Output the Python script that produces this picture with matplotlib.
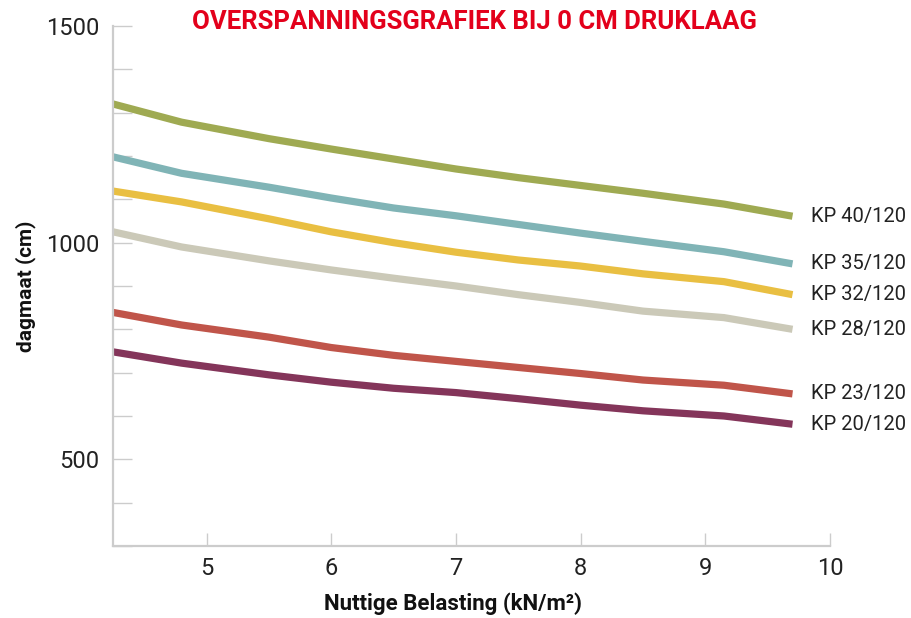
import numpy as np
import matplotlib
matplotlib.use("Agg")
import matplotlib.pyplot as plt
from matplotlib.ticker import MultipleLocator

# belasting (kN/m2) and dagmaat (cm) per kanaalplaat
belasting = [4.25, 4.8, 5.5, 6.0, 6.5, 7.0, 7.5, 8.0, 8.5, 9.15, 9.7]
kp40 = [1320, 1278, 1240, 1216, 1193, 1170, 1150, 1132, 1114, 1089, 1061]
kp35 = [1198, 1160, 1128, 1103, 1080, 1062, 1042, 1022, 1003, 979, 951]
kp32 = [1119, 1094, 1055, 1025, 1000, 978, 960, 946, 928, 910, 880]
kp28 = [1025, 990, 958, 937, 918, 900, 880, 862, 842, 827, 800]
kp23 = [839, 810, 782, 758, 740, 726, 712, 698, 683, 671, 651]
kp20 = [748, 722, 695, 678, 664, 654, 640, 625, 612, 600, 581]

names = ["KP 40/120", "KP 35/120", "KP 32/120", "KP 28/120", "KP 23/120", "KP 20/120"]
series = [kp40, kp35, kp32, kp28, kp23, kp20]
colors = ["#9faa52", "#80b4b6", "#e9bf42", "#cbc9b8", "#c0554a", "#84355a"]

plt.rcParams['font.family'] = ['Roboto', 'DejaVu Sans']

fig = plt.figure(figsize=(9.12, 6.18), dpi=100)
ax = fig.add_axes([0.1239, 0.1165, 0.910 - 0.1239, 0.958 - 0.1165])

for vals, c, name in zip(series, colors, names):
    ax.plot(belasting, vals, color=c, lw=5.2, solid_capstyle='butt', solid_joinstyle='round')
    ax.text(9.85, vals[-1], name, fontsize=14.5, color='#222222', va='center', ha='left',
            clip_on=False)

ax.set_xlim(4.25, 10)
ax.set_ylim(300, 1500)
ax.set_xticks([5, 6, 7, 8, 9, 10])
ax.set_yticks([500, 1000, 1500])
ax.yaxis.set_minor_locator(MultipleLocator(100))

gray = '#cccccc'
for s in ['top', 'right']:
    ax.spines[s].set_visible(False)
for s in ['left', 'bottom']:
    ax.spines[s].set_color(gray)
    ax.spines[s].set_linewidth(1.6)

ax.tick_params(axis='y', which='both', direction='in', length=14, width=1, color=gray,
               labelsize=17, labelcolor='#222222', pad=10)
ax.tick_params(axis='x', which='major', direction='in', length=9.5, width=1, color=gray,
               labelsize=17, labelcolor='#222222', pad=8)

ax.set_ylabel("dagmaat (cm)", fontsize=15, fontweight='bold', color='#111111', labelpad=7)
fig.text(0.497, 0.023, "Nuttige Belasting (kN/m²)", fontsize=16, fontweight='bold',
         color='#111111', ha='center', va='center')
fig.text(0.52, 0.965, "OVERSPANNINGSGRAFIEK BIJ 0 CM DRUKLAAG", fontsize=18.5,
         fontweight='bold', color='#e3001b', ha='center', va='center')

fig.savefig("out.png", dpi=100)
